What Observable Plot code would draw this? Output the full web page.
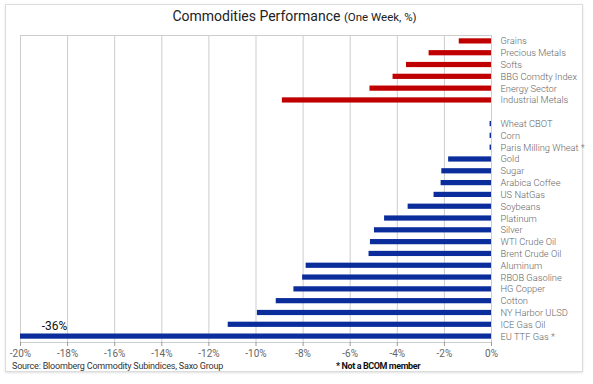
<!DOCTYPE html>
<html>
<head>
<meta charset="utf-8">
<script src="https://cdn.jsdelivr.net/npm/d3@7"></script>
<script src="https://cdn.jsdelivr.net/npm/@observablehq/plot@0.6"></script>
<style>
  html, body { margin: 0; padding: 0; background: #fff; }
  #wrap { position: relative; width: 593px; height: 384px; font-family: Roboto, "Liberation Sans", sans-serif; }
  #card { position: absolute; left: 5px; top: 4px; width: 578px; height: 368px; border: 1px solid #dcdcdc; box-shadow: 0 1px 2px rgba(0,0,0,0.12); box-sizing: border-box; }
  #title { position: absolute; left: 5px; width: 579px; top: 6px; text-align: center; font-size: 14px; color: #222; line-height: 20px; }
  #title span { font-size: 11.5px; }
  #chart { position: absolute; left: 0; top: 0; }
  #source { position: absolute; left: 12px; top: 361px; font-size: 9px; color: #333; letter-spacing: -0.2px; }
  #note { position: absolute; left: 336px; top: 361px; font-size: 9px; color: #111; font-weight: bold; letter-spacing: -0.4px; }
</style>
</head>
<body>
<div id="wrap">
  <div id="card"></div>
  <div id="title">Commodities Performance <span>(One Week, %)</span></div>
  <div id="chart"></div>
  <div id="source">Source: Bloomberg Commodity Subindices, Saxo Group</div>
  <div id="note">* Not a BCOM member</div>
</div>
<script>
// Sector indices (red)
const sectorNames = ["Grains", "Precious Metals", "Softs", "BBG Comdty Index", "Energy Sector", "Industrial Metals"];
const sectorValues = [-1.37, -2.65, -3.61, -4.18, -5.16, -8.88];

// Blank spacer row between groups
const spacer = [" "];

// Individual commodities (blue)
const commodityNames = ["Wheat CBOT", "Corn", "Paris Milling Wheat *", "Gold", "Sugar", "Arabica Coffee", "US NatGas", "Soybeans", "Platinum", "Silver", "WTI Crude Oil", "Brent Crude Oil", "Aluminum", "RBOB Gasoline", "HG Copper", "Cotton", "NY Harbor ULSD", "ICE Gas Oil", "EU TTF Gas *"];
const commodityValues = [-0.06, -0.06, -0.06, -1.82, -2.11, -2.14, -2.44, -3.54, -4.54, -4.97, -5.14, -5.20, -7.87, -8.02, -8.39, -9.14, -9.94, -11.18, -36];

const xTicks = [-20, -18, -16, -14, -12, -10, -8, -6, -4, -2, 0];
const xDomain = [-20, 0];

const sectors = sectorNames.map((name, i) => ({name, value: sectorValues[i]}));
const commodities = commodityNames.map((name, i) => ({name, value: commodityValues[i]}));
const order = [...sectorNames, ...spacer, ...commodityNames];
const outlier = commodities.filter(d => d.value < xDomain[0]);

const chart = Plot.plot({
  width: 593,
  height: 384,
  marginLeft: 20,
  marginRight: 102,
  marginTop: 35,
  marginBottom: 42,
  style: {fontFamily: "Roboto, 'Liberation Sans', sans-serif", background: "transparent", overflow: "visible"},
  x: {domain: xDomain, clamp: true},
  y: {domain: order, padding: 0, round: false},
  marks: [
    Plot.ruleX(xTicks, {stroke: "#cdcdcd", strokeWidth: 1}),
    Plot.frame({stroke: "#cdcdcd"}),
    Plot.barX(sectors, {x: "value", y: "name", fill: "#c00000", insetTop: 3.3, insetBottom: 3.3}),
    Plot.barX(commodities, {x: "value", y: "name", fill: "#0b2d9c", insetTop: 3.3, insetBottom: 3.3}),
    Plot.axisX({ticks: xTicks, tickFormat: d => d + "%", tickSize: 4, tickPadding: 3, fontSize: 10, color: "#666", stroke: "#9a9a9a", label: null}),
    Plot.axisY({anchor: "right", tickSize: 0, tickPadding: 9, fontSize: 9.3, fontWeight: 300, color: "#666", label: null}),
    Plot.text(outlier, {x: "value", y: "name", text: d => d.value + "%", dx: 34, dy: -10, fontSize: 12, fill: "#111", textAnchor: "middle"})
  ]
});
document.getElementById("chart").appendChild(chart);
</script>
</body>
</html>
